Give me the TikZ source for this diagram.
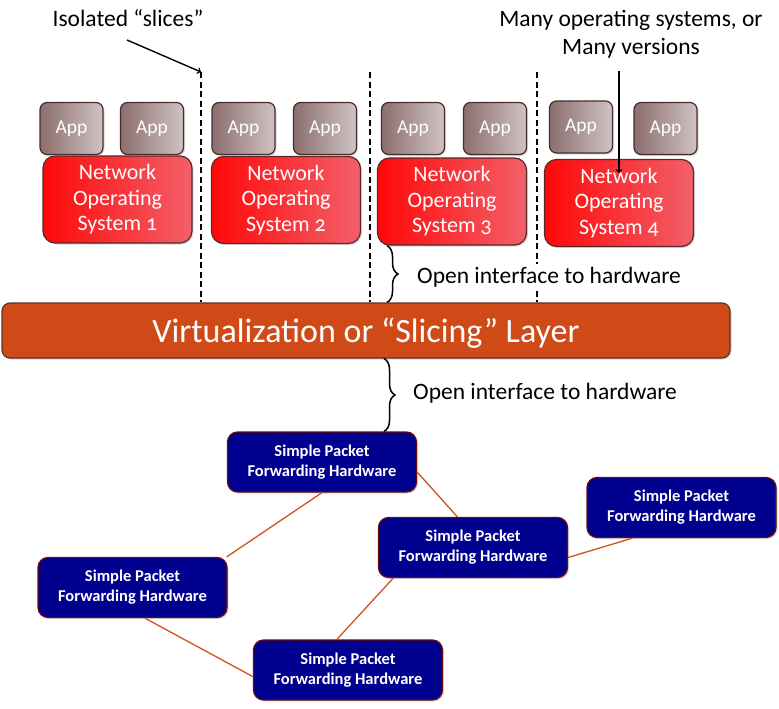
\documentclass[tikz,border=0pt]{standalone}
\usepackage{fontspec}
\setmainfont{Carlito}
\newfontfamily\nosfont[Numbers=OldStyle]{Carlito}
\usetikzlibrary{positioning,shadows,decorations.pathreplacing}
\definecolor{appdark}{HTML}{8C6E6E}
\definecolor{applight}{HTML}{D0C3C3}
\definecolor{appedge}{HTML}{4A2C2C}
\definecolor{nosred}{HTML}{FF0808}
\definecolor{nospink}{HTML}{F2606A}
\definecolor{nosedge}{HTML}{5A2828}
\definecolor{slicebar}{HTML}{CF4A17}
\definecolor{slicedge}{HTML}{5A3424}
\definecolor{hwblue}{HTML}{00008E}
\definecolor{hwedge}{HTML}{6A0A0A}
\definecolor{linkline}{HTML}{D2521E}

\begin{document}
\begin{tikzpicture}[x=1pt,y=-1pt,
                    app/.style={draw=appedge,line width=1.2pt,rounded corners=7pt,
                        left color=appdark,right color=applight,text=white,
                        minimum width=63pt,minimum height=52pt,inner sep=0pt,
                        font=\fontsize{19.5}{22}\selectfont,
                        drop shadow={opacity=0.3,shadow xshift=1.5pt,shadow yshift=-1.5pt}},
                    nos/.style={draw=nosedge,line width=1.2pt,rounded corners=12pt,
                        left color=nosred,right color=nospink,text=white,align=center,
                        minimum width=149pt,minimum height=87pt,inner sep=0pt,
                        font=\nosfont\fontsize{22}{25.5}\selectfont,
                        drop shadow={opacity=0.3,shadow xshift=1.5pt,shadow yshift=-1.5pt}},
                    hw/.style={draw=hwedge,line width=1.2pt,fill=hwblue,rounded corners=10pt,
                        text=white,align=center,minimum width=189pt,minimum height=60pt,
                        inner sep=0pt,font=\bfseries\fontsize{16.5}{20}\selectfont,
                        drop shadow={opacity=0.3,shadow xshift=1.5pt,shadow yshift=-1.5pt}},
                    slicecut/.style={line width=2.6pt,dash pattern=on 6pt off 3.5pt},
                    pointer/.style={->,line width=1.4pt},
                    link/.style={draw=linkline,line width=1.3pt},
                    note/.style={font=\fontsize{23.5}{28}\selectfont,align=center},
                    hwbrace/.style={decorate,decoration={brace,amplitude=11pt},line width=1.5pt}]
                \useasboundingbox (0,0) rectangle (779,709);
                \node[draw=slicedge,line width=1.2pt,fill=slicebar,rounded corners=8pt,
                      minimum width=728pt,minimum height=55pt,text=white,text depth=0pt,
                      font=\fontsize{34}{36}\selectfont,
                      drop shadow={opacity=0.3,shadow xshift=1.5pt,shadow yshift=-1.5pt}]
                      (bar) at (366,330.5) {Virtualization or “Slicing” Layer};
                \coordinate (cut1) at (201,72);
                \coordinate (cut2) at (370,72);
                \coordinate (cut3) at (537,72);
                \foreach \c in {cut1,cut2,cut3}
                    \draw[slicecut] (\c) -- (\c |- bar.north);
                \node[nos] (nos1) at (117.5,199.5) {Network\\Operating\\System 1};
                \node[nos] (nos2) at (286,200) {Network\\Operating\\System 2};
                \node[nos] (nos3) at (452,201.5) {Network\\Operating\\System 3};
                \node[nos] (nos4) at (619,203) {Network\\Operating\\System 4};
                \node[app] (app1) at (71.5,128.5) {App};
                \node[app] (app2) at (152,128.5) {App};
                \node[app] (app3) at (243.5,128.5) {App};
                \node[app] (app4) at (325,128.5) {App};
                \node[app] (app5) at (413,128.5) {App};
                \node[app] (app6) at (495,128.5) {App};
                \node[app] (app7) at (581,127) {App};
                \node[app] (app8) at (665.5,128.5) {App};
                \node[note] (isolated) at (128,18) {Isolated “slices”};
                \coordinate (isotail) at (127,40);
                \draw[pointer] (isotail) -- (cut1);
                \node[note] (many) at (631,34) {Many operating systems, or\\Many versions};
                \coordinate (manytail) at (619,71);
                \coordinate (manytip) at (619,173);
                \draw[pointer] (manytail) -- (manytip);
                \node[hw] (hw1) at (322,462) {Simple Packet\\Forwarding Hardware};
                \node[hw] (hw2) at (473,547.5) {Simple Packet\\Forwarding Hardware};
                \node[hw] (hw3) at (681.5,507.5) {Simple Packet\\Forwarding Hardware};
                \node[hw] (hw4) at (132.5,587.5) {Simple Packet\\Forwarding Hardware};
                \node[hw] (hw5) at (348,670) {Simple Packet\\Forwarding Hardware};
                \draw[link] (hw1.south) -- (hw4.18);
                \draw[link] (hw1.-6) -- (hw2.117);
                \draw[link] (hw2.-6) -- (hw3.212);
                \draw[link] (hw2.201) -- (hw5.110);
                \draw[link] (hw4.-68) -- (hw5.184);
                \coordinate (gap1) at (387,0);
                \coordinate (gap2) at (384,0);
                \node[note,fill=white,anchor=west,inner sep=3pt] (iface1) at (414,277) {Open interface to hardware};
                \node[note,anchor=west,inner sep=3pt] (iface2) at (410,393) {Open interface to hardware};
                \draw[hwbrace] (gap1 |- nos3.south) -- (gap1 |- bar.north);
                \draw[hwbrace] (gap2 |- bar.south) -- (gap2 |- hw1.north);
                \end{tikzpicture}
\end{document}
